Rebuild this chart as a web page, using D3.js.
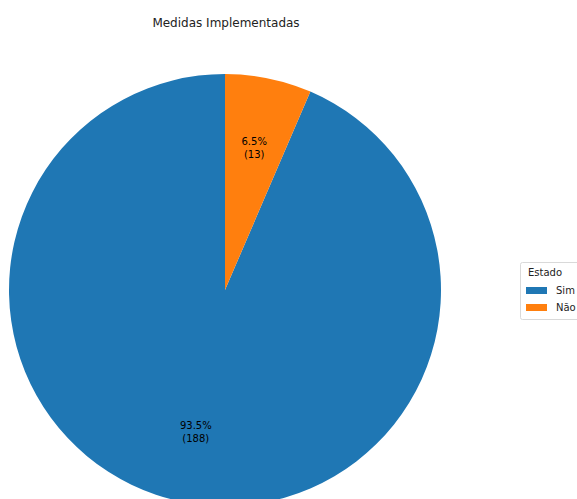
<!DOCTYPE html>
<html><head><meta charset="utf-8">
<script src="https://cdn.jsdelivr.net/npm/d3@7"></script>
<style>body{margin:0;background:#fff}svg{display:block}</style>
</head><body>
<script>
const categories = ["Sim", "Não"];
const counts = [188, 13];
const colors = ["#1f77b4", "#ff7f0e"];
const title = "Medidas Implementadas";
const legendTitle = "Estado";

const W = 577, H = 499;
const cx = 225, cy = 290, R = 216;
const svg = d3.select("body").append("svg").attr("width", W).attr("height", H)
  .style("font-family", "'DejaVu Sans', sans-serif");

const total = d3.sum(counts);
const data = categories.map((c, i) => ({cat: c, v: counts[i], col: colors[i]}));
const pie = d3.pie().value(d => d.v).sort(null).startAngle(0).endAngle(-2 * Math.PI);
const arcs = pie(data);
const arc = d3.arc().innerRadius(0).outerRadius(R);
const g = svg.append("g").attr("transform", `translate(${cx},${cy})`);
g.selectAll("path").data(arcs).join("path").attr("d", arc).attr("fill", d => d.data.col);

const lab = d3.arc().innerRadius(R * 0.67).outerRadius(R * 0.67);
arcs.forEach(a => {
  const [x, y] = lab.centroid(a);
  const t = g.append("text").attr("text-anchor", "middle").attr("font-size", 10).attr("fill", "#000")
    .attr("transform", `translate(${x},${y})`);
  t.append("tspan").attr("x", 0).attr("y", -3).text((a.data.v / total * 100).toFixed(1) + "%");
  t.append("tspan").attr("x", 0).attr("y", 10).text(`(${a.data.v})`);
});

svg.append("text").attr("x", 226).attr("y", 27).attr("text-anchor", "middle")
  .attr("font-size", 12).attr("fill", "#222").text(title);

const lg = svg.append("g");
lg.append("rect").attr("x", 520.5).attr("y", 262.5).attr("width", 70).attr("height", 57)
  .attr("fill", "#fff").attr("stroke", "#d9d9d9").attr("rx", 2);
lg.append("text").attr("x", 545).attr("y", 276).attr("text-anchor", "middle")
  .attr("font-size", 10).attr("fill", "#222").text(legendTitle);
data.forEach((d, i) => {
  lg.append("rect").attr("x", 526).attr("y", 287 + i * 17).attr("width", 21).attr("height", 7).attr("fill", d.col);
  lg.append("text").attr("x", 556).attr("y", 294 + i * 17).attr("font-size", 10).attr("fill", "#222").text(d.cat);
});
</script>
</body></html>
